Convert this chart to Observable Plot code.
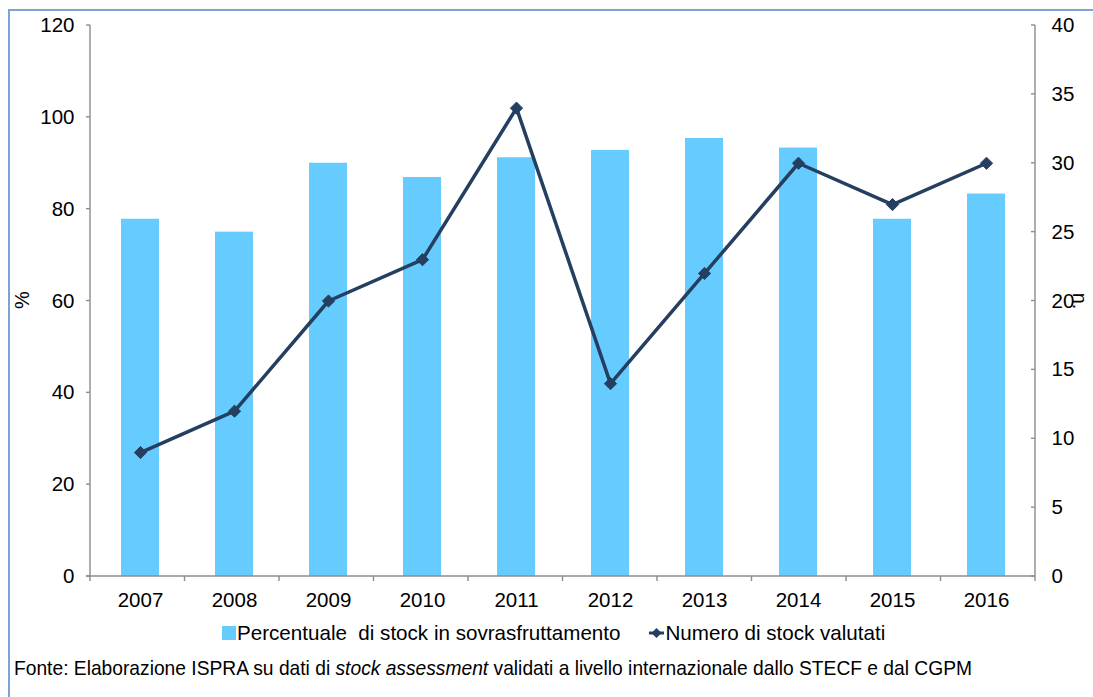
<!DOCTYPE html>
<html><head><meta charset="utf-8">
<script src="https://cdn.jsdelivr.net/npm/d3@7"></script>
<script src="https://cdn.jsdelivr.net/npm/@observablehq/plot@0.6"></script>
<style>
html,body{margin:0;padding:0;background:#fff;}
body{width:1093px;height:697px;overflow:hidden;position:relative;font-family:"Liberation Sans",Arial,sans-serif;color:#000;}
#frame{position:absolute;left:8px;top:9px;width:1300px;height:900px;border:2.5px solid #7DA2D6;box-sizing:border-box;}
#chart{position:absolute;left:0;top:0;}
.lbl{position:absolute;font-size:20px;line-height:1;white-space:pre;}
#legend{position:absolute;top:621px;left:222px;font-size:20.6px;white-space:pre;display:flex;align-items:center;}
#caption{position:absolute;left:14px;top:656px;font-size:21px;white-space:pre;transform-origin:0 0;}
</style>
</head><body>
<div id="frame"></div>
<div id="chart"></div>
<div class="lbl" style="left:13px;top:290px;transform:rotate(-90deg);">%</div>
<div class="lbl" style="left:1072px;top:291px;transform:rotate(90deg);">n.</div>
<div id="legend"></div>
<div id="caption">Fonte: Elaborazione ISPRA su dati di <i>stock assessment</i> validati a livello internazionale dallo STECF e dal CGPM</div>
<script>
const years = ["2007","2008","2009","2010","2011","2012","2013","2014","2015","2016"];
const percentuale = [77.8, 75.0, 90.0, 86.9, 91.2, 92.8, 95.4, 93.3, 77.8, 83.3];
const numero = [9, 12, 20, 23, 34, 14, 22, 30, 27, 30];
const leftTicks = [0, 20, 40, 60, 80, 100, 120];
const rightTicks = [0, 5, 10, 15, 20, 25, 30, 35, 40];
const seriesNames = ["Percentuale  di stock in sovrasfruttamento", "Numero di stock valutati"];

const barColor = "#66CCFF";
const lineColor = "#243F60";
const axisColor = "#8C8C8C";
const ratio = 120 / 40;

const data = years.map((y, i) => ({year: y, pct: percentuale[i], n: numero[i]}));

function axisLines(index, scales, values, dims) {
  const g = d3.create("svg:g").attr("stroke", axisColor).attr("stroke-width", 1.4).attr("fill", "none");
  const L = dims.marginLeft, R = dims.width - dims.marginRight;
  const T = dims.marginTop, B = dims.height - dims.marginBottom;
  g.append("line").attr("x1", L).attr("x2", L).attr("y1", T).attr("y2", B);
  g.append("line").attr("x1", R).attr("x2", R).attr("y1", T).attr("y2", B);
  g.append("line").attr("x1", L - 4).attr("x2", R).attr("y1", B).attr("y2", B);
  const step = (R - L) / years.length;
  for (let i = 0; i <= years.length; i++) {
    const x = L + i * step;
    g.append("line").attr("x1", x).attr("x2", x).attr("y1", B).attr("y2", B + 5);
  }
  for (const v of leftTicks) {
    const y = scales.y(v);
    g.append("line").attr("x1", L - 4).attr("x2", L).attr("y1", y).attr("y2", y);
  }
  for (const v of rightTicks) {
    const y = scales.y(v * ratio);
    g.append("line").attr("x1", R - 4).attr("x2", R).attr("y1", y).attr("y2", y);
  }
  return g.node();
}

const chart = Plot.plot({
  width: 1093,
  height: 622,
  marginLeft: 90,
  marginRight: 58,
  marginTop: 25,
  marginBottom: 46,
  style: {fontFamily: "'Liberation Sans', Arial, sans-serif", fontSize: "20.5px", color: "#000", background: "transparent", overflow: "visible"},
  x: {domain: years, paddingInner: 0.6, paddingOuter: 0.3, label: null},
  y: {domain: [0, 120], label: null},
  marks: [
    Plot.barY(data, {x: "year", y: "pct", fill: barColor}),
    axisLines,
    Plot.axisY({anchor: "left", ticks: leftTicks, tickSize: 0, tickPadding: 16, fontSize: 20.5, label: null}),
    Plot.axisY({anchor: "right", ticks: rightTicks.map(v => v * ratio), tickFormat: v => String(Math.round(v / ratio)), tickSize: 0, tickPadding: 16, fontSize: 20.5, label: null}),
    Plot.axisX({tickSize: 0, tickPadding: 16, fontSize: 20.5, label: null}),
    Plot.line(data, {x: "year", y: d => d.n * ratio, stroke: lineColor, strokeWidth: 3.5}),
    Plot.dot(data, {x: "year", y: d => d.n * ratio, symbol: "diamond2", r: 5.5, fill: lineColor, stroke: lineColor, strokeWidth: 1})
  ]
});
document.getElementById("chart").appendChild(chart);

const legend = document.getElementById("legend");
legend.innerHTML =
  `<span style="display:inline-block;width:14px;height:14px;background:${barColor};margin-right:1px"></span>` +
  `<span>${seriesNames[0]}</span>` +
  `<svg width="17" height="14" style="margin-left:28px;margin-right:0px"><line x1="1" x2="16" y1="7" y2="7" stroke="${lineColor}" stroke-width="3"/><path d="M8.5 2 L13.5 7 L8.5 12 L3.5 7 Z" fill="${lineColor}"/></svg>` +
  `<span>${seriesNames[1]}</span>`;

const cap = document.getElementById("caption");
const w = cap.getBoundingClientRect().width;
cap.style.transform = `scaleX(${958 / w})`;
</script>
</body></html>
